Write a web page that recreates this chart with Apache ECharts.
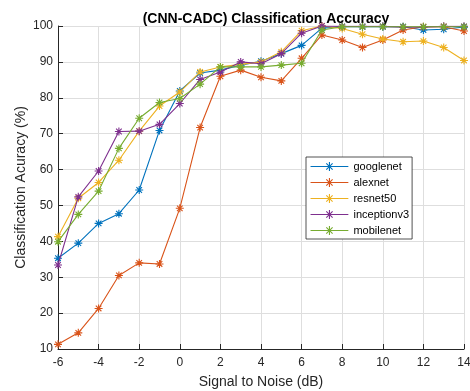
<!DOCTYPE html>
<html><head><meta charset="utf-8">
<script src="https://cdn.jsdelivr.net/npm/echarts@6/dist/echarts.min.js"></script>
<style>html,body{margin:0;padding:0;background:#fff}#c{width:470px;height:391px}</style>
</head><body><div id="c"></div>
<script>
const snr = [-6,-5,-4,-3,-2,-1,0,1,2,3,4,5,6,7,8,9,10,11,12,13,14];
const googlenet   = [35.3,39.5,45.0,47.7,54.3,70.9,81.9,86.9,87.7,89.1,90.2,92.3,94.6,99.4,99.8,99.8,99.8,99.8,98.9,99.1,99.7];
const alexnet     = [11.3,14.5,21.3,30.5,34.0,33.7,49.2,71.7,86.0,87.7,85.7,84.7,91.0,97.5,96.1,94.0,96.1,98.9,99.8,99.8,98.6];
const resnet50    = [41.3,52.0,56.4,62.6,70.7,77.7,81.6,87.2,88.6,89.3,90.0,92.8,98.7,100,99.3,97.7,96.4,95.6,95.8,94.0,90.4];
const inceptionv3 = [33.4,52.4,59.6,70.6,70.7,72.6,78.4,85.1,87.2,90.0,89.5,92.3,98.0,100,99.9,99.9,99.9,99.7,99.7,99.9,99.9];
const mobilenet   = [39.9,47.5,54.0,65.9,74.3,78.7,79.8,83.8,88.6,88.6,88.6,89.1,89.6,98.9,99.8,99.8,99.8,99.8,99.8,99.8,99.8];
const xTicks = [-6,-4,-2,0,2,4,6,8,10,12,14];

const names = ['googlenet','alexnet','resnet50','inceptionv3','mobilenet'];
const datas = [googlenet, alexnet, resnet50, inceptionv3, mobilenet];
const colors = ['#0072BD','#D95319','#EDB120','#7E2F8E','#77AC30'];
const star = 'path://M0,-1L0,1M-1,0L1,0M-0.7,-0.7L0.7,0.7M-0.7,0.7L0.7,-0.7';
const legendStar = 'path://M-4.2,0L4.2,0M0,-1L0,1M-1,0L1,0M-0.7,-0.7L0.7,0.7M-0.7,0.7L0.7,-0.7';
const font = 'Liberation Sans, Arial, Helvetica, sans-serif';

const chart = echarts.init(document.getElementById('c'), null, {renderer:'canvas'});
chart.setOption({
  animation:false,
  backgroundColor:'#fff',
  title:{text:'(CNN-CADC) Classification Accuracy', left:261, textAlign:'center', top:7,
    textStyle:{fontFamily:font,fontSize:14,fontWeight:'bold',color:'#000'}},
  grid:{left:58,right:6,top:26,bottom:42,containLabel:false,outerBoundsMode:'none'},
  legend:{orient:'vertical', left:306, top:157,
    data: names.map((n,i)=>({name:n, icon:legendStar,
      itemStyle:{color:colors[i],borderColor:colors[i],borderWidth:1.1}})),
    itemWidth:38, itemHeight:9, itemGap:5, padding:[4,3,3,4],
    borderColor:'#262626', borderWidth:0.8, backgroundColor:'#fff',
    textStyle:{fontFamily:font,fontSize:11,color:'#000'}},
  xAxis:{type:'value', min:-6, max:14, interval:2,
    name:'Signal to Noise (dB)', nameLocation:'middle', nameGap:26,
    nameTextStyle:{fontFamily:font,fontSize:14,color:'#262626'},
    axisLine:{show:true,onZero:false,lineStyle:{color:'#262626',width:1}},
    axisTick:{inside:true,length:5,lineStyle:{color:'#262626'}},
    axisLabel:{fontFamily:font,fontSize:12,color:'#262626',margin:8,
      formatter:v=>xTicks.includes(v)?String(v):''},
    splitLine:{show:true,lineStyle:{color:'#dedede',width:1}}},
  yAxis:{type:'value', min:10, max:100, interval:10,
    name:'Classification Acuracy (%)', nameLocation:'middle', nameGap:30, nameMoveOverlap:false,
    nameTextStyle:{fontFamily:font,fontSize:14,color:'#262626'},
    axisLine:{show:true,onZero:false,lineStyle:{color:'#262626',width:1}},
    axisTick:{show:true,inside:true,length:5,lineStyle:{color:'#262626'}},
    axisLabel:{fontFamily:font,fontSize:12,color:'#262626',margin:5},
    splitLine:{show:true,lineStyle:{color:'#dedede',width:1}}},
  series: names.map((n,i)=>({
    name:n, type:'line',
    data: snr.map((x,j)=>[x, datas[i][j]]),
    symbol:star, symbolSize:8, showSymbol:true,
    lineStyle:{color:colors[i],width:1.1},
    itemStyle:{color:colors[i],borderColor:colors[i],borderWidth:1.1},
    z: 2+i
  }))
});
</script></body></html>
